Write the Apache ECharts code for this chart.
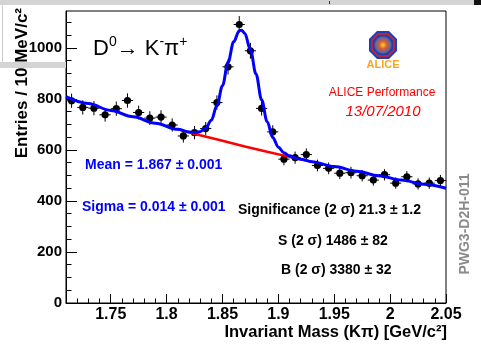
<!DOCTYPE html>
<html>
<head>
<meta charset="utf-8">
<script src="https://cdn.jsdelivr.net/npm/echarts@6/dist/echarts.min.js"></script>
<style>
html,body{margin:0;padding:0;background:#fff;}
#chart{width:481px;height:344px;}
</style>
</head>
<body>
<div id="chart"></div>
<script>
// bin centres (10 MeV bins) and counts
var mass = [1.715,1.725,1.735,1.745,1.755,1.765,1.775,1.785,1.795,1.805,1.815,
            1.825,1.835,1.845,1.855,1.865,1.875,1.885,1.895,
            1.905,1.915,1.925,1.935,1.945,1.955,1.965,1.975,1.985,1.995,2.005,2.015,2.025,2.035,2.045];
var counts = [793,767,764,738,762,794,747,725,729,698,655,
              668,684,786,926,1092,989,763,671,
              564,570,582,539,528,509,511,499,482,503,470,495,467,470,480];
var errs = [28,28,28,27,28,28,27,27,27,26,26,
            26,26,28,30,33,31,28,26,
            24,24,24,23,23,23,23,22,22,22,22,22,22,22,22];

// fit curve (signal + background)
var fitMass = [1.71,1.73,1.75,1.77,1.79,1.81,1.82,1.825,1.83,1.835,1.84,1.845,1.85,1.855,1.86,1.865,1.867,1.87,
               1.875,1.88,1.885,1.89,1.895,1.90,1.905,1.91,1.915,1.92,1.93,1.95,1.97,1.99,2.01,2.03,2.05];
var fitVal = [809,782,755,730,705,681,671,669,672,685,717,773,852,944,1024,1068,1070,1057,
              993,898,797,711,649,611,589,577,569,564,554,535,517,499,482,466,450];

// background only, shown under the peak
var bgMass = [1.81,1.83,1.85,1.87,1.89,1.91,1.93];
var bgVal = [681,658,636,614,593,573,554];

// axis ticks
var xMajor = [1.75,1.8,1.85,1.9,1.95,2,2.05];
var xLabels = ['1.75','1.8','1.85','1.9','1.95','2','2.05'];
var xMinor = [1.71,1.72,1.73,1.74,1.76,1.77,1.78,1.79,1.81,1.82,1.83,1.84,1.86,1.87,1.88,1.89,
              1.91,1.92,1.93,1.94,1.96,1.97,1.98,1.99,2.01,2.02,2.03,2.04];
var yMajor = [0,200,400,600,800,1000];
var yLabels = ['0','200','400','600','800','1000'];
var yMinor = [50,100,150,250,300,350,450,500,550,650,700,750,850,900,950,1050,1100];

var FONT = '"Liberation Sans", Arial, Helvetica, sans-serif';

var chart = echarts.init(document.getElementById('chart'));

function xAxisDef(major) {
    return {
        type: 'value', min: 1.71, max: 2.05, position: 'bottom',
        axisLine: { show: major, lineStyle: { color: '#000', width: 1 } },
        axisTick: {
            inside: true, length: major ? 9 : 4.5,
            customValues: major ? xMajor : xMinor,
            lineStyle: { color: '#000', width: 1 }
        },
        axisLabel: {
            show: major, customValues: xMajor, margin: 4,
            fontFamily: FONT, fontSize: 16, fontWeight: 'bold', color: '#000',
            formatter: function (v) { return xLabels[xMajor.indexOf(v)] || ''; }
        },
        splitLine: { show: false }
    };
}
function yAxisDef(major) {
    return {
        type: 'value', min: 0, max: 1145, position: 'left',
        axisLine: { show: major, lineStyle: { color: '#000', width: 1 } },
        axisTick: {
            inside: true, length: major ? 11 : 5.5,
            customValues: major ? yMajor : yMinor,
            lineStyle: { color: '#000', width: 1 }
        },
        axisLabel: {
            show: major, customValues: yMajor, margin: 4,
            fontFamily: FONT, fontSize: 15, fontWeight: 'bold', color: '#000',
            formatter: function (v) { return yLabels[yMajor.indexOf(v)] || ''; }
        },
        splitLine: { show: false }
    };
}

var pts = [];
for (var i = 0; i < mass.length; i++) {
    pts.push([mass[i], counts[i], errs[i]]);
}
var fitData = [];
for (var i = 0; i < fitMass.length; i++) fitData.push([fitMass[i], fitVal[i]]);
var bgData = [];
for (var i = 0; i < bgMass.length; i++) bgData.push([bgMass[i], bgVal[i]]);

var option = {
    animation: false,
    backgroundColor: '#fff',
    grid: { left: 66, top: 11, width: 380, height: 292, show: true, borderColor: '#000', borderWidth: 1, backgroundColor: '#fff' },
    xAxis: [xAxisDef(true), xAxisDef(false)],
    yAxis: [yAxisDef(true), yAxisDef(false)],
    series: [{
        type: 'custom',
        z: 2,
        data: pts,
        renderItem: function (params, api) {
            var x = api.value(0), y = api.value(1), e = api.value(2);
            var c = api.coord([x, y]);
            var t = api.coord([x, y + e]);
            var b = api.coord([x, y - e]);
            var l = api.coord([x - 0.005, y]);
            var r = api.coord([x + 0.005, y]);
            var st = { stroke: '#000', lineWidth: 1 };
            return {
                type: 'group',
                children: [
                    { type: 'line', shape: { x1: t[0], y1: t[1], x2: b[0], y2: b[1] }, style: st },
                    { type: 'line', shape: { x1: l[0], y1: l[1], x2: r[0], y2: r[1] }, style: st },
                    { type: 'circle', shape: { cx: c[0], cy: c[1], r: 3.6 }, style: { fill: '#000' } }
                ]
            };
        }
    }, {
        type: 'line', z: 3,
        data: bgData,
        showSymbol: false,
        lineStyle: { color: '#ff0000', width: 2.5 }
    }, {
        type: 'line', z: 4,
        data: fitData,
        showSymbol: false,
        smooth: 0.35, smoothMonotone: 'x',
        lineStyle: { color: '#0000ff', width: 3 }
    }],
    graphic: [
        // screenshot leftovers around the frame
        { type: 'rect', shape: { x: 0, y: 0, width: 481, height: 5 }, style: { fill: '#d4d4d4' }, z: 10 },
        { type: 'rect', shape: { x: 0, y: 62, width: 66, height: 6 }, style: { fill: '#d4d4d4' }, z: 10 },
        { type: 'rect', shape: { x: 2, y: 5, width: 1, height: 57 }, style: { fill: '#cccccc' }, z: 10 },
        { type: 'rect', shape: { x: 329, y: 1, width: 1, height: 3 }, style: { fill: '#333' }, z: 11 },
        { type: 'rect', shape: { x: 474, y: 0, width: 7, height: 5 }, style: { fill: '#111' }, z: 11 },
        // axis titles
        {
            type: 'text', x: 22, y: 8, rotation: Math.PI / 2, z: 10,
            style: { text: 'Entries / 10 MeV/c²', fontFamily: FONT, fontSize: 17, fontWeight: 'bold', fill: '#000', align: 'right', verticalAlign: 'middle' }
        },
        {
            type: 'text', x: 447, y: 332, z: 10,
            style: { text: 'Invariant Mass (Kπ) [GeV/c²]', fontFamily: FONT, fontSize: 16.5, fontWeight: 'bold', fill: '#000', align: 'right', verticalAlign: 'middle' }
        },
        // decay channel
        {
            type: 'text', x: 93, y: 49, z: 10,
            style: {
                text: 'D{s|0}→ K{s|-}π{s|+}', fontFamily: FONT, fontSize: 22, fill: '#000', verticalAlign: 'middle',
                rich: { s: { fontFamily: FONT, fontSize: 14, fill: '#000', padding: [0, 0, 14, 0] } }
            }
        },
        // ALICE logo
        {
            type: 'group', x: 383, y: 45, z: 10,
            children: [
                { type: 'polygon', shape: { points: [[-6,-14],[6,-14],[14,-6],[14,6],[6,14],[-6,14],[-14,6],[-14,-6]] }, style: { fill: '#1f3fae' } },
                { type: 'polygon', shape: { points: [[-5,-11],[5,-11],[11,-5],[11,5],[5,11],[-5,11],[-11,5],[-11,-5]] }, style: { fill: 'none', stroke: '#e02030', lineWidth: 1.5 } },
                { type: 'circle', shape: { cx: 0, cy: 0, r: 9 }, style: {
                    fill: new echarts.graphic.RadialGradient(0.5, 0.5, 0.5, [
                        { offset: 0, color: '#f8d030' }, { offset: 0.45, color: '#d85a30' }, { offset: 0.8, color: '#6a6a9a' }, { offset: 1, color: '#3a4aa0' }
                    ]) } }
            ]
        },
        { type: 'text', x: 383, y: 65, z: 10, style: { text: 'ALICE', fontFamily: FONT, fontSize: 11, fontWeight: 'bold', fill: '#f5a623', align: 'center', verticalAlign: 'middle' } },
        { type: 'text', x: 382, y: 93, z: 10, style: { text: 'ALICE Performance', fontFamily: FONT, fontSize: 12, fill: '#ff0000', align: 'center', verticalAlign: 'middle' } },
        { type: 'text', x: 383, y: 112, z: 10, style: { text: '13/07/2010', fontFamily: FONT, fontSize: 15, fontStyle: 'italic', fill: '#ff0000', align: 'center', verticalAlign: 'middle' } },
        // fit results
        { type: 'text', x: 85, y: 165, z: 10, style: { text: 'Mean = 1.867 ± 0.001', fontFamily: FONT, fontSize: 14, fontWeight: 'bold', fill: '#0000ff', verticalAlign: 'middle' } },
        { type: 'text', x: 82, y: 207, z: 10, style: { text: 'Sigma = 0.014 ± 0.001', fontFamily: FONT, fontSize: 14, fontWeight: 'bold', fill: '#0000ff', verticalAlign: 'middle' } },
        { type: 'text', x: 238, y: 210, z: 10, style: { text: 'Significance (2 σ) 21.3 ± 1.2', fontFamily: FONT, fontSize: 14, fontWeight: 'bold', fill: '#000', verticalAlign: 'middle' } },
        { type: 'text', x: 278, y: 241, z: 10, style: { text: 'S (2 σ) 1486 ± 82', fontFamily: FONT, fontSize: 14, fontWeight: 'bold', fill: '#000', verticalAlign: 'middle' } },
        { type: 'text', x: 281, y: 270, z: 10, style: { text: 'B (2 σ) 3380 ± 32', fontFamily: FONT, fontSize: 14, fontWeight: 'bold', fill: '#000', verticalAlign: 'middle' } },
        // figure id
        { type: 'text', x: 465, y: 224, rotation: Math.PI / 2, z: 10, style: { text: 'PWG3-D2H-011', fontFamily: FONT, fontSize: 14, fontWeight: 'bold', fill: '#8a8a8a', align: 'center', verticalAlign: 'middle' } }
    ]
};

chart.setOption(option);

window.onresize = function () {
    chart.resize();
};
</script>
</body>
</html>
